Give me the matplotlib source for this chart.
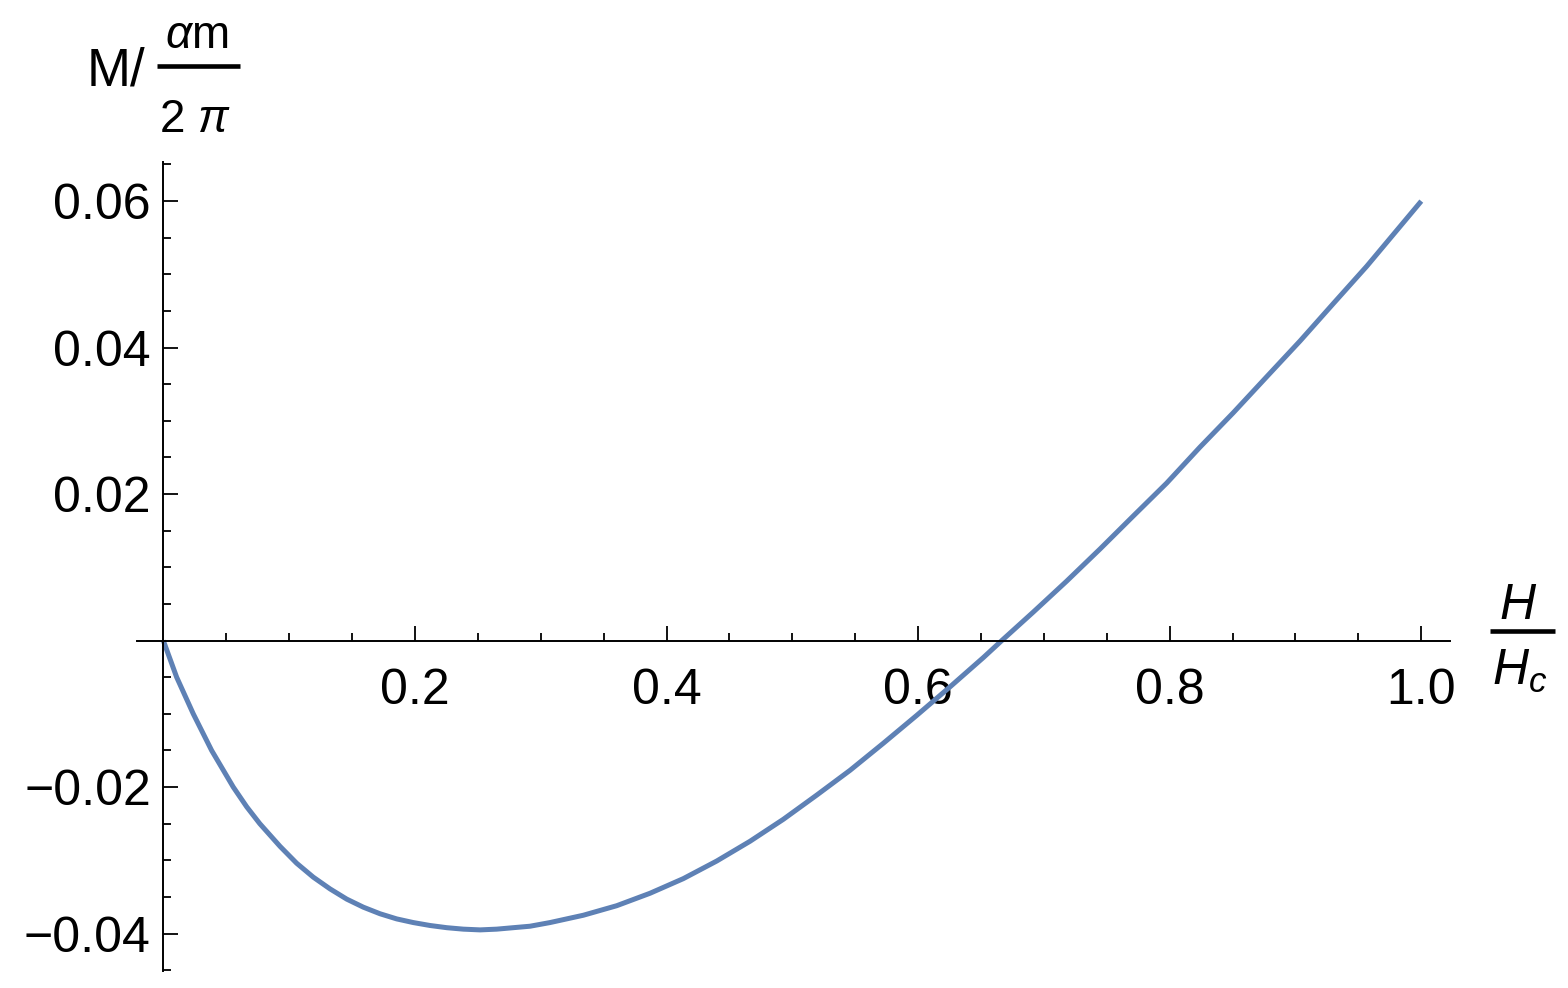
import numpy as np
import matplotlib
matplotlib.use("Agg")
import matplotlib.pyplot as plt
from matplotlib.lines import Line2D

# values (hand smoothed)
h_ratio = [0.0, 0.0106, 0.0238, 0.0384, 0.0556, 0.0663, 0.0767, 0.0928, 0.106,
           0.1192, 0.1325, 0.1458, 0.159, 0.1723, 0.1855, 0.1987, 0.212, 0.2253,
           0.2385, 0.2518, 0.265, 0.2782, 0.2915, 0.3074, 0.3339, 0.3604, 0.3869,
           0.4134, 0.4399, 0.4664, 0.4929, 0.5194, 0.546, 0.5725, 0.599, 0.6255,
           0.652, 0.6665, 0.6916, 0.718, 0.7446, 0.771, 0.7976, 0.824, 0.8505,
           0.877, 0.9036, 0.93, 0.9566, 1.0]
magnetization = [0.0, -0.0050, -0.0100, -0.0150, -0.0200, -0.0227, -0.0250,
                 -0.0281, -0.0304, -0.0323, -0.0339, -0.0353, -0.0364, -0.0373,
                 -0.0380, -0.0385, -0.0389, -0.0392, -0.0394, -0.0395, -0.0394,
                 -0.0392, -0.0390, -0.0385, -0.0375, -0.0362, -0.0345, -0.0325,
                 -0.0301, -0.0274, -0.0244, -0.0211, -0.0177, -0.0140, -0.0102,
                 -0.0063, -0.0023, 0.0, 0.0039, 0.0081, 0.0125, 0.0170, 0.0215,
                 0.0264, 0.0311, 0.0360, 0.0409, 0.0460, 0.0511, 0.0600]

x_ticks = [0.2, 0.4, 0.6, 0.8, 1.0]
x_tick_labels = ["0.2", "0.4", "0.6", "0.8", "1.0"]
y_ticks = [-0.04, -0.02, 0.02, 0.04, 0.06]
y_tick_labels = ["\u22120.04", "\u22120.02", "0.02", "0.04", "0.06"]

W, H = 1568, 988

plt.rcParams.update({
    "font.family": "Liberation Sans",
    "mathtext.fontset": "custom",
    "mathtext.rm": "Liberation Sans",
    "mathtext.it": "Liberation Sans:italic",
    "mathtext.bf": "Liberation Sans:bold",
})


def fx(px):
    return px / W


def fy(py):
    return 1 - py / H


fig = plt.figure(figsize=(W / 100, H / 100), dpi=100)
ax = fig.add_axes([fx(136.9), fy(970.9), (1449.6 - 136.9) / W, (970.9 - 162.3) / H])

ax.plot(h_ratio, magnetization, color="#5E81B5", lw=3.6,
        solid_capstyle="butt", solid_joinstyle="round")

ax.set_xlim(-0.021, 1.0225)
ax.set_ylim(-0.0451, 0.0653)

for side in ["top", "right"]:
    ax.spines[side].set_visible(False)
ax.spines["left"].set_position(("data", 0))
ax.spines["bottom"].set_position(("data", 0))
for side in ["left", "bottom"]:
    ax.spines[side].set_linewidth(1.4)
    ax.spines[side].set_color("black")

ax.set_xticks(x_ticks)
ax.set_xticklabels(x_tick_labels)
ax.set_yticks(y_ticks)
ax.set_yticklabels(y_tick_labels)

minor_x = [v for v in np.arange(0.05, 1.01, 0.05) if min(abs(v - t) for t in x_ticks) > 1e-6]
minor_y = [v for v in np.arange(-0.045, 0.0651, 0.005)
           if abs(v) > 1e-6 and min(abs(v - t) for t in y_ticks) > 1e-6]
ax.set_xticks(minor_x, minor=True)
ax.set_yticks(minor_y, minor=True)

ax.tick_params(which="both", direction="in", width=1.3, color="black")
ax.tick_params(which="major", length=11)
ax.tick_params(which="minor", length=6)
ax.tick_params(axis="x", which="major", labelsize=36, pad=20)
ax.tick_params(axis="y", which="major", labelsize=36, pad=9)

# y label: M / (alpha m / 2 pi)
fig.text(fx(87), fy(85), "M/", fontsize=38, ha="left", va="baseline")
fig.text(fx(197), fy(48), r"$\alpha$m", fontsize=33, ha="center", va="baseline")
fig.add_artist(Line2D([fx(157), fx(240)], [fy(66), fy(66)], color="black",
                      lw=3.3, solid_capstyle="butt"))
fig.text(fx(195), fy(132), r"2 $\pi$", fontsize=33, ha="center", va="baseline")

# x label: H / H_c
fig.text(fx(1518), fy(619), r"$H$", fontsize=36, ha="center", va="baseline")
fig.add_artist(Line2D([fx(1490), fx(1555)], [fy(631), fy(631)], color="black",
                      lw=3.3, solid_capstyle="butt"))
fig.text(fx(1520), fy(685), r"$H_c$", fontsize=36, ha="center", va="baseline")

fig.savefig("out.png", dpi=100)
